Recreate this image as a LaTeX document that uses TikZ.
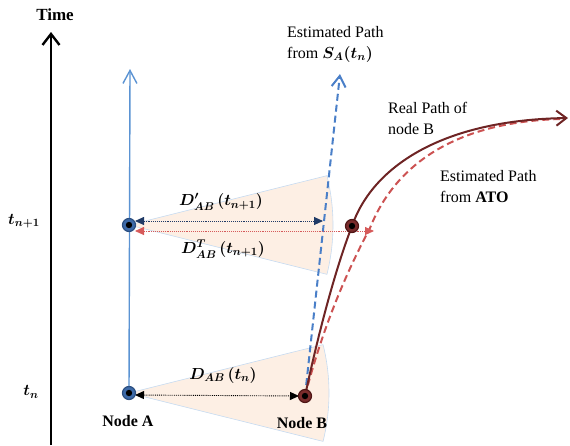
\documentclass[tikz,border=0pt]{standalone}
\usepackage{fix-cm}
\usepackage{fontspec}
\setmainfont{Liberation Serif}
\usepackage{amsmath}
\usepackage{bm}
\usetikzlibrary{arrows.meta}
\definecolor{blueline}{HTML}{5B93D3}
\definecolor{bluedash}{HTML}{4A7FC8}
\definecolor{nodeAfill}{HTML}{3D6AA8}
\definecolor{nodeAdraw}{HTML}{2B4E80}
\definecolor{realpath}{HTML}{6E2424}
\definecolor{nodeBfill}{HTML}{7A2C2C}
\definecolor{nodeBdraw}{HTML}{4F1616}
\definecolor{reddash}{HTML}{CC5252}
\definecolor{navy}{HTML}{1F3A66}
\definecolor{reddot}{HTML}{D65A5A}
\definecolor{sectorfill}{HTML}{FDEFE4}
\definecolor{sectorline}{HTML}{C6DBF1}
\tikzset{
  lbl/.style={font=\fontsize{16}{21}\selectfont, inner sep=0pt},
  mlbl/.style={font=\fontsize{16}{21}\selectfont, inner sep=0pt},
  nodeA/.style={circle, fill=nodeAfill, draw=nodeAdraw, line width=1.2pt, minimum size=13pt, inner sep=0pt},
  nodeB/.style={circle, fill=nodeBfill, draw=nodeBdraw, line width=1.2pt, minimum size=13pt, inner sep=0pt},
  sector/.style={fill=sectorfill, draw=sectorline, line width=0.6pt},
  dotarrow/.style={densely dotted, line width=0.9pt, {Triangle[length=9pt,width=8pt]}-{Triangle[length=9pt,width=8pt]}},
}
\begin{document}
\begin{tikzpicture}[x=1pt,y=-1pt]
\useasboundingbox (0,0) rectangle (570,445);
% coordinates
\coordinate (A1c) at (129,225);
\coordinate (A0c) at (129,393);
\coordinate (B0c) at (305,396);
\coordinate (B1c) at (352,226);
% sectors
\draw[sector] (A1c) -- ++(-14:204) arc[start angle=-14,end angle=14,radius=204] -- cycle;
\draw[sector] (A0c) -- ++(-14:200) arc[start angle=-14,end angle=14,radius=200] -- cycle;
% time axis
\coordinate (tb) at (51,445);
\coordinate (tt) at (51,32);
\draw[line width=2.4pt, -{Straight Barb[length=11pt,width=17pt]}] (tb) -- (tt);
\node[lbl, font=\fontsize{17}{20}\selectfont\bfseries] (time) at (55,15) {Time};
\node[mlbl] (tn1) at (24,221) {$\bm{t_{n+1}}$};
\node[mlbl] (tn) at (31,392) {$\bm{t_n}$};
% node A line
\coordinate (atop) at (130,69);
\draw[blueline, line width=1.4pt, -{Straight Barb[length=13pt,width=14pt]}] (A0c) -- (atop);
% blue dashed estimated path
\coordinate (btop) at (340,74);
\draw[bluedash, line width=2pt, dash pattern=on 7pt off 4pt, -{Straight Barb[length=11pt,width=14pt]}] (B0c) -- (btop);
% red dashed estimated path from ATO
\coordinate (rend) at (560,119);
\draw[reddash, line width=2pt, dash pattern=on 7pt off 4pt] (B0c) .. controls (322,330) and (345,275) .. (370,228) .. controls (395,165) and (455,122) .. (rend);
% real path
\coordinate (pend) at (568,118);
\draw[realpath, line width=2pt, -{Straight Barb[length=10pt,width=15pt]}] (B0c) .. controls (318,335) and (335,270) .. (B1c) .. controls (372,168) and (440,120) .. (pend);
% dotted arrows
\coordinate (bL) at (135,221);
\coordinate (bR) at (323,221);
\draw[dotarrow, navy] (bL) -- (bR);
\coordinate (rL) at (135,231);
\coordinate (rR) at (374,231);
\draw[dotarrow, reddot] (rL) -- (rR);
\coordinate (kL) at (135,395);
\coordinate (kR) at (299,396);
\draw[dotarrow, black] (kL) -- (kR);
% nodes
\node[nodeA] (A1) at (A1c) {};
\fill[black] (A1) circle (3.2);
\node[nodeA] (A0) at (A0c) {};
\fill[black] (A0) circle (3.2);
\node[nodeB] (B1) at (B1c) {};
\fill[black] (B1) circle (3.2);
\node[nodeB] (B0) at (B0c) {};
\fill[black] (B0) circle (3.2);
% labels
\node[mlbl] (dp) at (221,202) {$\bm{D'_{AB}\,(t_{n+1})}$};
\node[mlbl] (dt) at (223,249) {$\bm{D^{T}_{AB}\,(t_{n+1})}$};
\node[mlbl] (d0) at (223,375) {$\bm{D_{AB}\,(t_n)}$};
\node[lbl, font=\fontsize{16}{21}\selectfont\bfseries] (la) at (128,421) {Node A};
\node[lbl, font=\fontsize{16}{21}\selectfont\bfseries] (lb) at (302,423) {Node B};
\node[lbl, anchor=west, align=left] (l1) at (287,44) {Estimated Path\\from $\bm{S_A(t_n)}$};
\node[lbl, anchor=west, align=left] (l2) at (388,118) {Real Path of\\node B};
\node[lbl, anchor=west, align=left] (l3) at (440,187) {Estimated Path\\from \textbf{ATO}};
\end{tikzpicture}
\end{document}
